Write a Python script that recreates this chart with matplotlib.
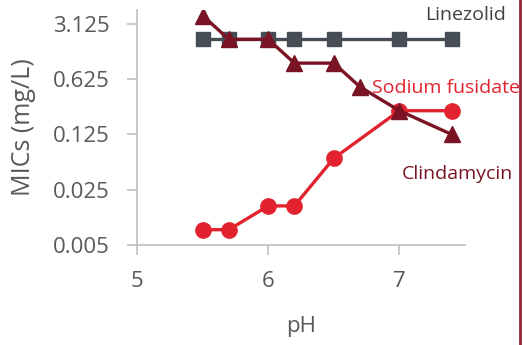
import matplotlib.pyplot as plt
from matplotlib.ticker import FixedLocator, NullLocator

plt.rcParams["font.family"] = ["Open Sans", "DejaVu Sans"]

# pH values and MICs (mg/L)
ph_linezolid = [5.5, 5.7, 6.0, 6.2, 6.5, 7.0, 7.4]
mic_linezolid = [2, 2, 2, 2, 2, 2, 2]

ph_fusidate = [5.5, 5.7, 6.0, 6.2, 6.5, 7.0, 7.4]
mic_fusidate = [0.0078, 0.0078, 0.0156, 0.0156, 0.0625, 0.25, 0.25]

ph_clinda = [5.5, 5.7, 6.0, 6.2, 6.5, 6.7, 7.0, 7.4]
mic_clinda = [4, 2, 2, 1, 1, 0.5, 0.25, 0.125]

y_ticks = [0.005, 0.025, 0.125, 0.625, 3.125]
y_ticklabels = ["0.005", "0.025", "0.125", "0.625", "3.125"]
x_ticks = [5, 6, 7]

grey = "#474d55"
red = "#e2232f"
darkred = "#7a1424"
axis_col = "#bfbfbf"
text_col = "#595959"

fig = plt.figure(figsize=(5.23, 3.45), dpi=100)
ax = fig.add_axes([0.262, 0.29, 0.627, 0.681])

ax.plot(ph_linezolid, mic_linezolid, color=grey, lw=2.4, marker="s", ms=10.5, zorder=3)
ax.plot(ph_fusidate, mic_fusidate, color=red, lw=2.4, marker="o", ms=11, zorder=4)
ax.plot(ph_clinda, mic_clinda, color=darkred, lw=2.4, marker="^", ms=11, zorder=5)

ax.set_yscale("log")
ax.set_ylim(0.005, 4.7)
ax.set_xlim(5, 7.5)
ax.yaxis.set_major_locator(FixedLocator(y_ticks))
ax.yaxis.set_minor_locator(NullLocator())
ax.set_yticklabels(y_ticklabels)
ax.set_xticks(x_ticks)
ax.set_xticklabels([str(x) for x in x_ticks])

for s in ["top", "right"]:
    ax.spines[s].set_visible(False)
for s in ["left", "bottom"]:
    ax.spines[s].set_color(axis_col)
    ax.spines[s].set_linewidth(1.2)
ax.tick_params(colors=axis_col, labelcolor=text_col, labelsize=16, length=7, width=1.2)
ax.tick_params(axis="y", pad=13)
ax.tick_params(axis="x", pad=12)

ax.set_xlabel("pH", fontsize=16, color=text_col, labelpad=17)
ax.set_ylabel("MICs (mg/L)", fontsize=18, color=text_col, labelpad=12)

ax.text(7.2, 4.1, "Linezolid", color="#404040", fontsize=14, ha="left", va="center", zorder=6)
ax.text(6.79, 0.48, "Sodium fusidate", color=red, fontsize=14, ha="left", va="center", zorder=6)
ax.text(7.02, 0.04, "Clindamycin", color=darkred, fontsize=14, ha="left", va="center", zorder=6)

# red border line at the right edge
fig.add_artist(plt.Line2D([0.994, 0.994], [0, 1], color="#9b2335", lw=2, transform=fig.transFigure))

fig.savefig("out.png", dpi=100)
